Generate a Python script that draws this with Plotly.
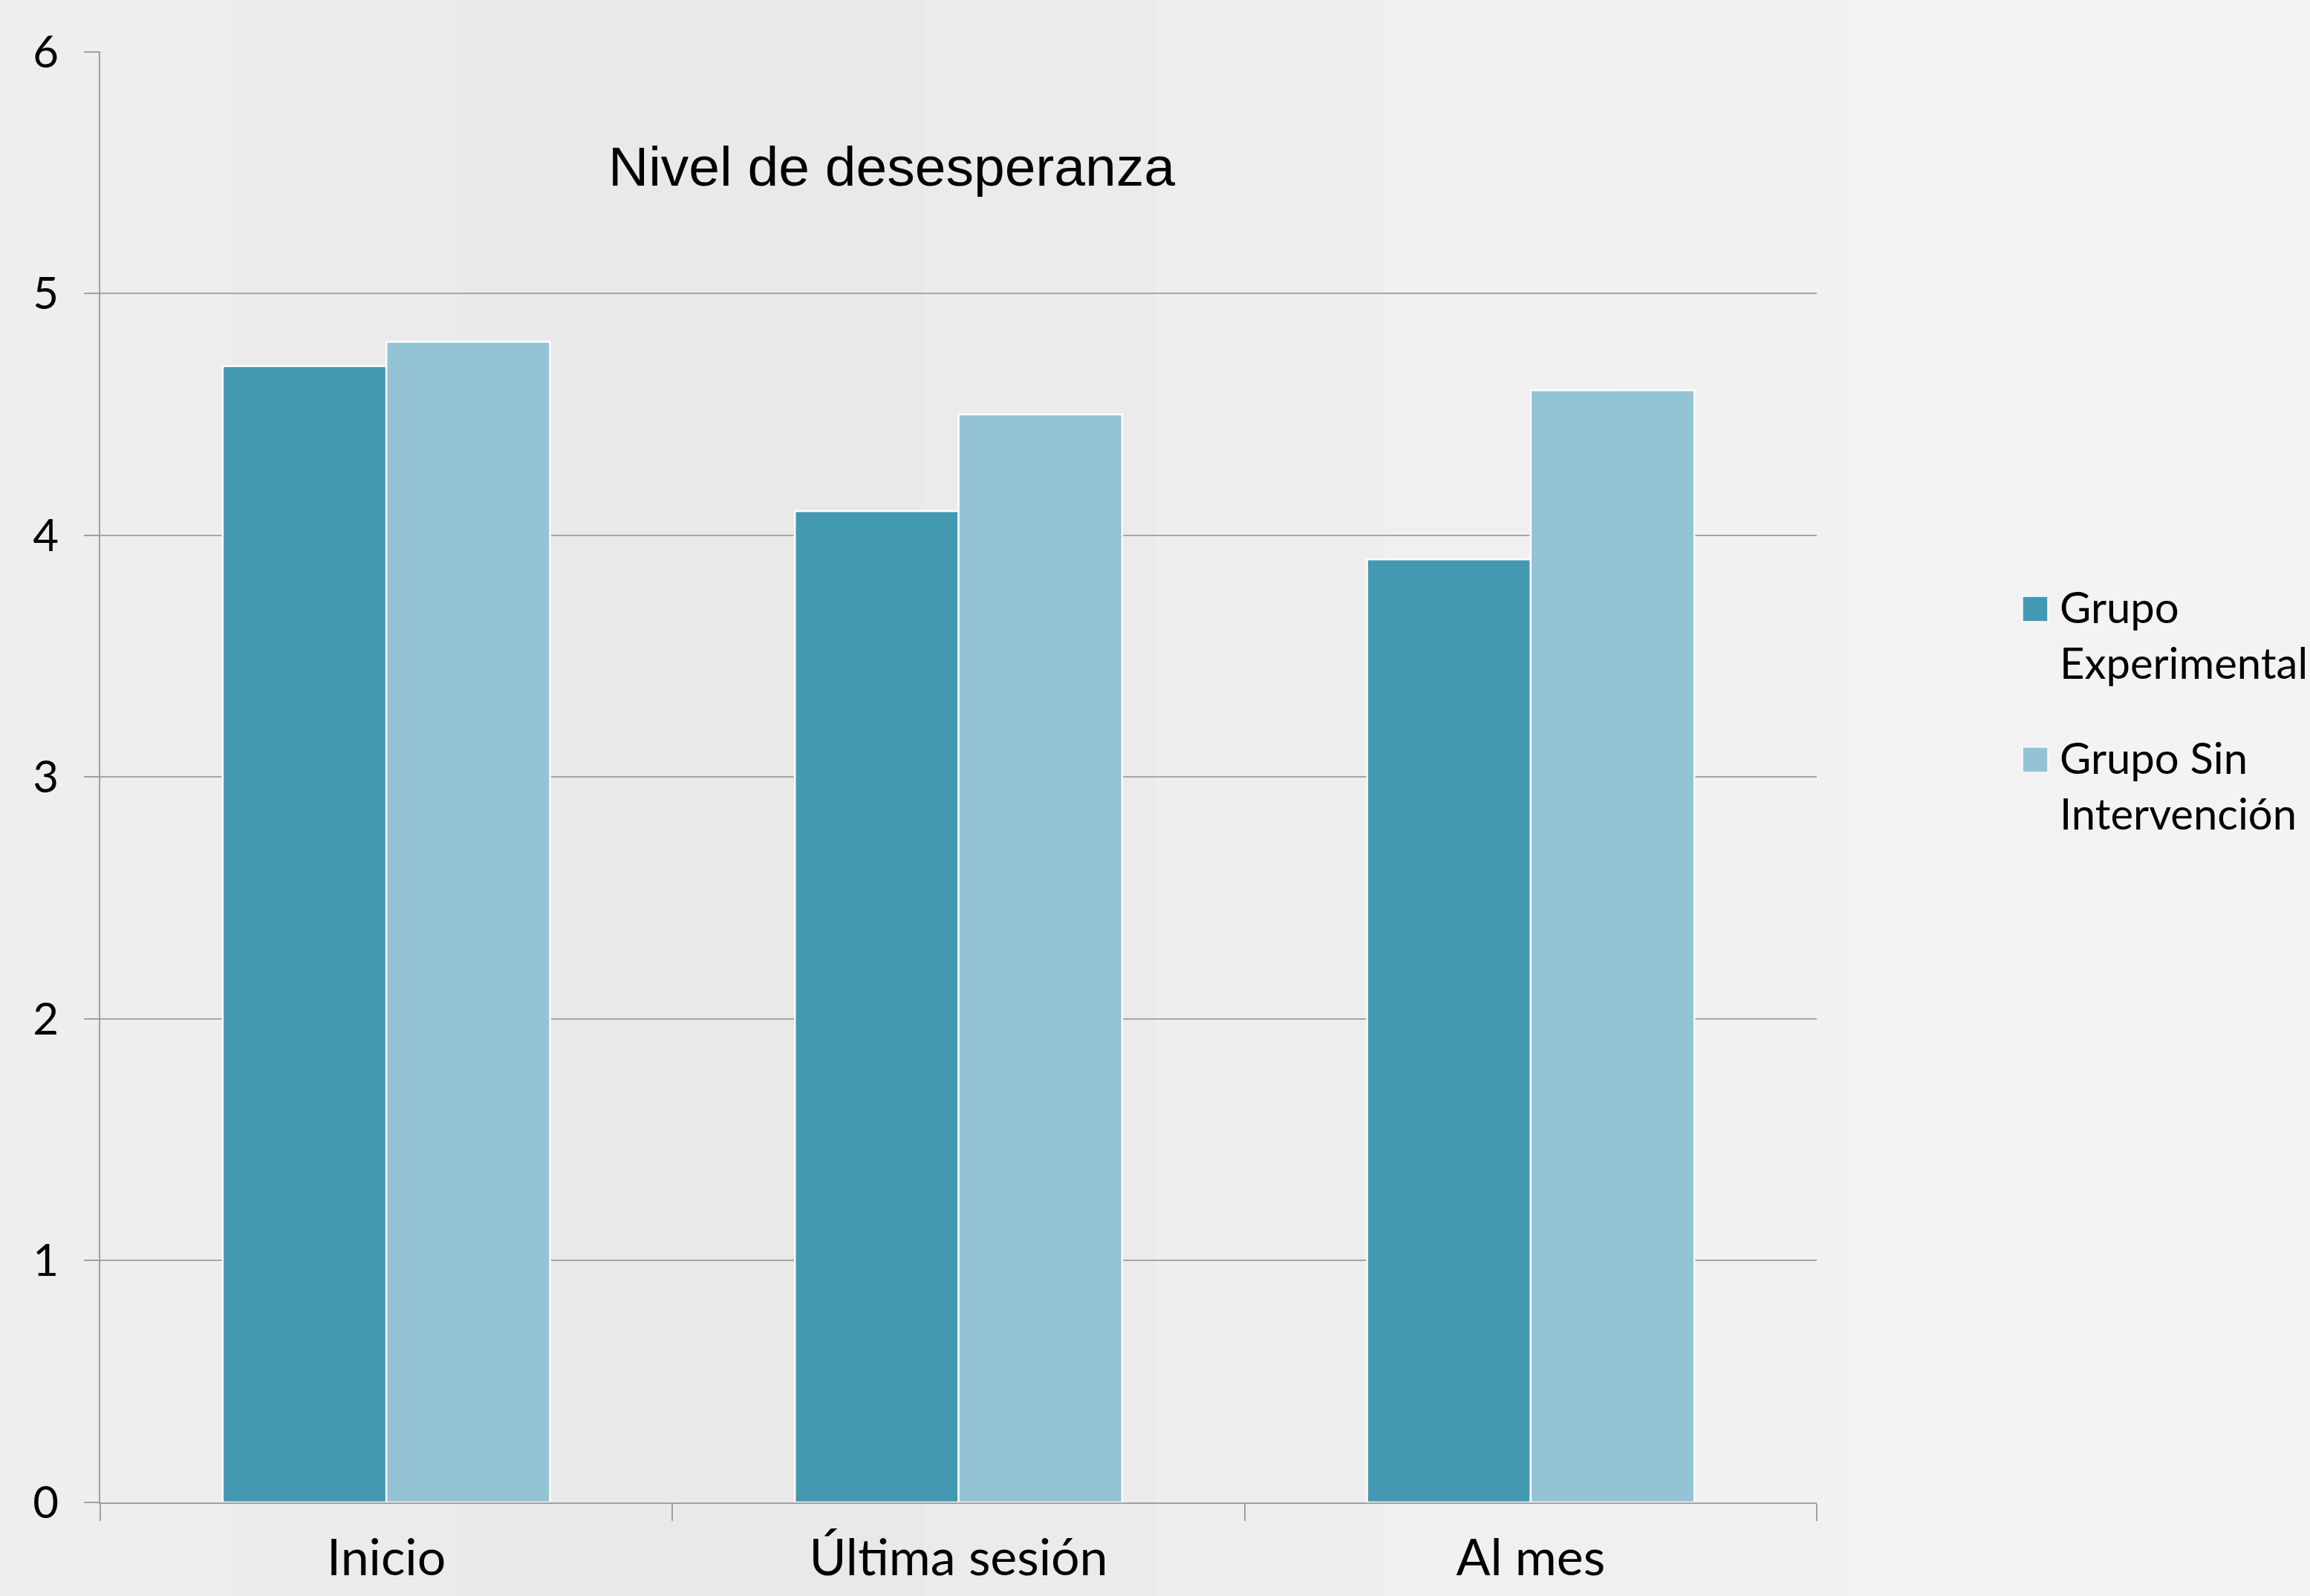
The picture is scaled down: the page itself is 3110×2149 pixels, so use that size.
import plotly.graph_objects as go

categories = ["Inicio", "Última sesión", "Al mes"]
series_names = ["Grupo<br>Experimental", "Grupo Sin<br>Intervención"]
grupo_experimental = [4.7, 4.1, 3.9]
grupo_sin_intervencion = [4.8, 4.5, 4.6]
y_ticks = [0, 1, 2, 3, 4, 5, 6]
title_text = "Nivel de desesperanza"

colors = ["#4399B1", "#93C3D5"]

W, H = 3110, 2149
L, R, T, B = 135, 2446, 69, 2023  # plot area in pixels
pw, ph = R - L, B - T

def px(x):
    return (x - L) / pw

def py(y):
    return (B - y) / ph

fig = go.Figure()
for name, vals, col in zip(series_names, [grupo_experimental, grupo_sin_intervencion], colors):
    fig.add_trace(go.Bar(
        x=categories, y=vals, name=name,
        marker=dict(color=col, line=dict(color="white", width=2.5)),
        showlegend=False,
    ))

# background gradient bands
shapes = []
bands = ["#EEEEEE", "#EBEBEB", "#E9E9E9", "#E9E9E9", "#EBEBEB", "#EEEEEE",
         "#F0F0F0", "#F1F1F1", "#F2F2F2", "#F3F3F3"]
n = len(bands)
for i, c in enumerate(bands):
    shapes.append(dict(type="rect", xref="paper", yref="paper",
                       x0=px(W * i / n), x1=px(W * (i + 1) / n),
                       y0=py(H), y1=py(0), fillcolor=c, line=dict(width=0),
                       layer="below"))

# manual legend
annotations = []
leg_sq = [(2723, 803), (2723, 1006)]
for (sx, sy), name, col in zip(leg_sq, series_names, colors):
    shapes.append(dict(type="rect", xref="paper", yref="paper",
                       x0=px(sx), x1=px(sx + 34), y0=py(sy + 34), y1=py(sy),
                       fillcolor=col, line=dict(color="white", width=1.5)))
    annotations.append(dict(xref="paper", yref="paper", x=px(2771), y=py(sy - 23),
                            xanchor="left", yanchor="top", align="left",
                            text=name, showarrow=False,
                            font=dict(family="Lato", size=58, color="black")))

annotations.append(dict(xref="paper", yref="paper", x=px(1200), y=py(224),
                        xanchor="center", yanchor="middle", text=title_text,
                        showarrow=False,
                        font=dict(family="Liberation Sans", size=75, color="black")))

fig.update_layout(
    width=W, height=H,
    margin=dict(l=L, r=W - R, t=T, b=H - B, autoexpand=False),
    paper_bgcolor="#EEEEEE",
    plot_bgcolor="rgba(0,0,0,0)",
    barmode="group",
    bargap=0.428,
    bargroupgap=0,
    shapes=shapes,
    annotations=annotations,
    showlegend=False,
)
fig.update_xaxes(
    type="category", range=[-0.5, 2.5], automargin=False,
    showline=True, linecolor="#A0A0A0", linewidth=2,
    ticks="outside", tickson="boundaries", ticklen=23, tickcolor="#A0A0A0", tickwidth=2,
    showgrid=False,
    ticklabelstandoff=14,
    tickfont=dict(family="Lato", size=68, color="black"),
)
fig.update_yaxes(
    range=[0, 6.002], tickvals=y_ticks, automargin=False,
    showline=True, linecolor="#A0A0A0", linewidth=2,
    ticks="outside", ticklen=20, tickcolor="#A0A0A0", tickwidth=2,
    showgrid=True, gridcolor="#A6A6A6", gridwidth=2,
    zeroline=False,
    ticklabelstandoff=22,
    tickfont=dict(family="Lato", size=60, color="black"),
)

fig.write_html("out.html")
